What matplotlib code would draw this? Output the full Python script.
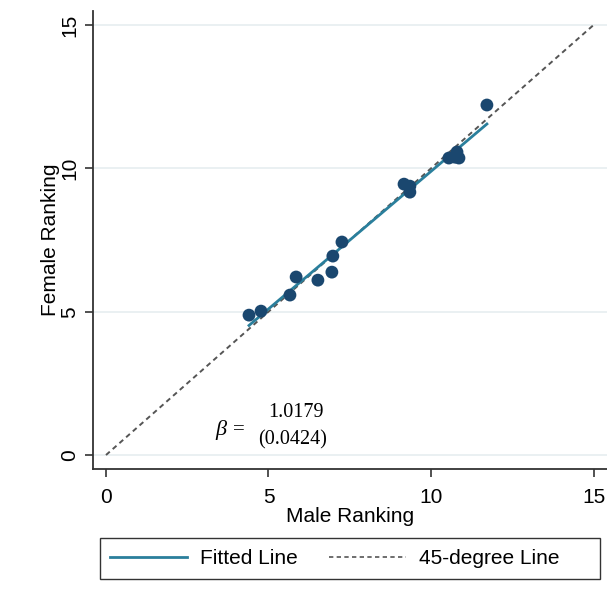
import numpy as np
import matplotlib.pyplot as plt
from matplotlib.lines import Line2D
from matplotlib.patches import Rectangle

# ranking of male vs female
male = [4.40, 4.77, 5.66, 5.85, 6.52, 6.95, 6.98, 7.26,
        9.17, 9.35, 9.35, 10.55, 10.74, 10.80, 10.86, 11.72]
female = [4.88, 5.02, 5.58, 6.21, 6.10, 6.38, 6.94, 7.43,
          9.45, 9.38, 9.17, 10.36, 10.39, 10.57, 10.36, 12.21]
ticks = [0, 5, 10, 15]
beta_txt = "1.0179"
se_txt = "(0.0424)"

plt.rcParams['font.family'] = ['Liberation Sans', 'DejaVu Sans']

navy = '#1a476f'
teal = '#2a7f9c'
dash = (0, (2.6, 2.0))

fig = plt.figure(figsize=(6.07, 6.04), dpi=100)
ax = fig.add_axes([0.1532, 0.2235, 0.8468, 0.7583])

# gridlines
for t in ticks:
    ax.axhline(t, color='#e6eef0', lw=1.2, zorder=0)

# 45-degree line
ax.plot([0, 15], [0, 15], color='#555555', lw=1.4, ls=dash, zorder=2)

# fitted line
x = np.array(male)
y = np.array(female)
b, a = np.polyfit(x, y, 1)
xs = np.array([x.min(), x.max()])
ax.plot(xs, a + b * xs, color=teal, lw=2.0, zorder=3)

ax.scatter(x, y, s=85, color=navy, edgecolors='none', zorder=4)

# beta annotation
ax.text(3.55, 0.87, 'β', ha='center', va='center', fontsize=16,
        family='Liberation Serif', style='italic')
ax.text(4.1, 0.87, '=', ha='center', va='center', fontsize=15,
        family='Liberation Serif')
ax.text(5.85, 1.50, beta_txt, ha='center', va='center', fontsize=14.5,
        family='Liberation Serif')
ax.text(5.75, 0.52, se_txt, ha='center', va='center', fontsize=14.5,
        family='Liberation Serif')

ax.set_xlim(-0.4, 15.415)
ax.set_ylim(-0.488, 15.49)
ax.set_xticks(ticks)
ax.set_yticks(ticks)
ax.tick_params(axis='x', length=6, width=1.2, pad=8, labelsize=15, color='#333333')
ax.tick_params(axis='y', length=6, width=1.2, pad=4, labelsize=15, color='#333333')
for lab in ax.get_yticklabels():
    lab.set_rotation(90)
    lab.set_va('center')

ax.spines['top'].set_visible(False)
ax.spines['right'].set_visible(False)
for s in ['left', 'bottom']:
    ax.spines[s].set_linewidth(1.3)
    ax.spines[s].set_color('#333333')

ax.set_xlabel('Male Ranking', fontsize=15, labelpad=0)
ax.set_ylabel('Female Ranking', fontsize=15, labelpad=0)

# legend box
fig.patches.append(Rectangle((0.1647, 0.0414), 0.8237, 0.0679,
                             transform=fig.transFigure, fill=False,
                             edgecolor='#333333', lw=1.0))
handles = [Line2D([], [], color=teal, lw=2.0),
           Line2D([], [], color='#555555', lw=1.2, ls=dash)]
fig.legend(handles, ['Fitted Line', '45-degree Line'], loc='center left',
           bbox_to_anchor=(0.181, 0.0753), ncol=2, fontsize=15, frameon=False,
           handlelength=3.7, handletextpad=0.62, columnspacing=1.5,
           borderaxespad=0, borderpad=0)

fig.savefig('out.png', dpi=100)
